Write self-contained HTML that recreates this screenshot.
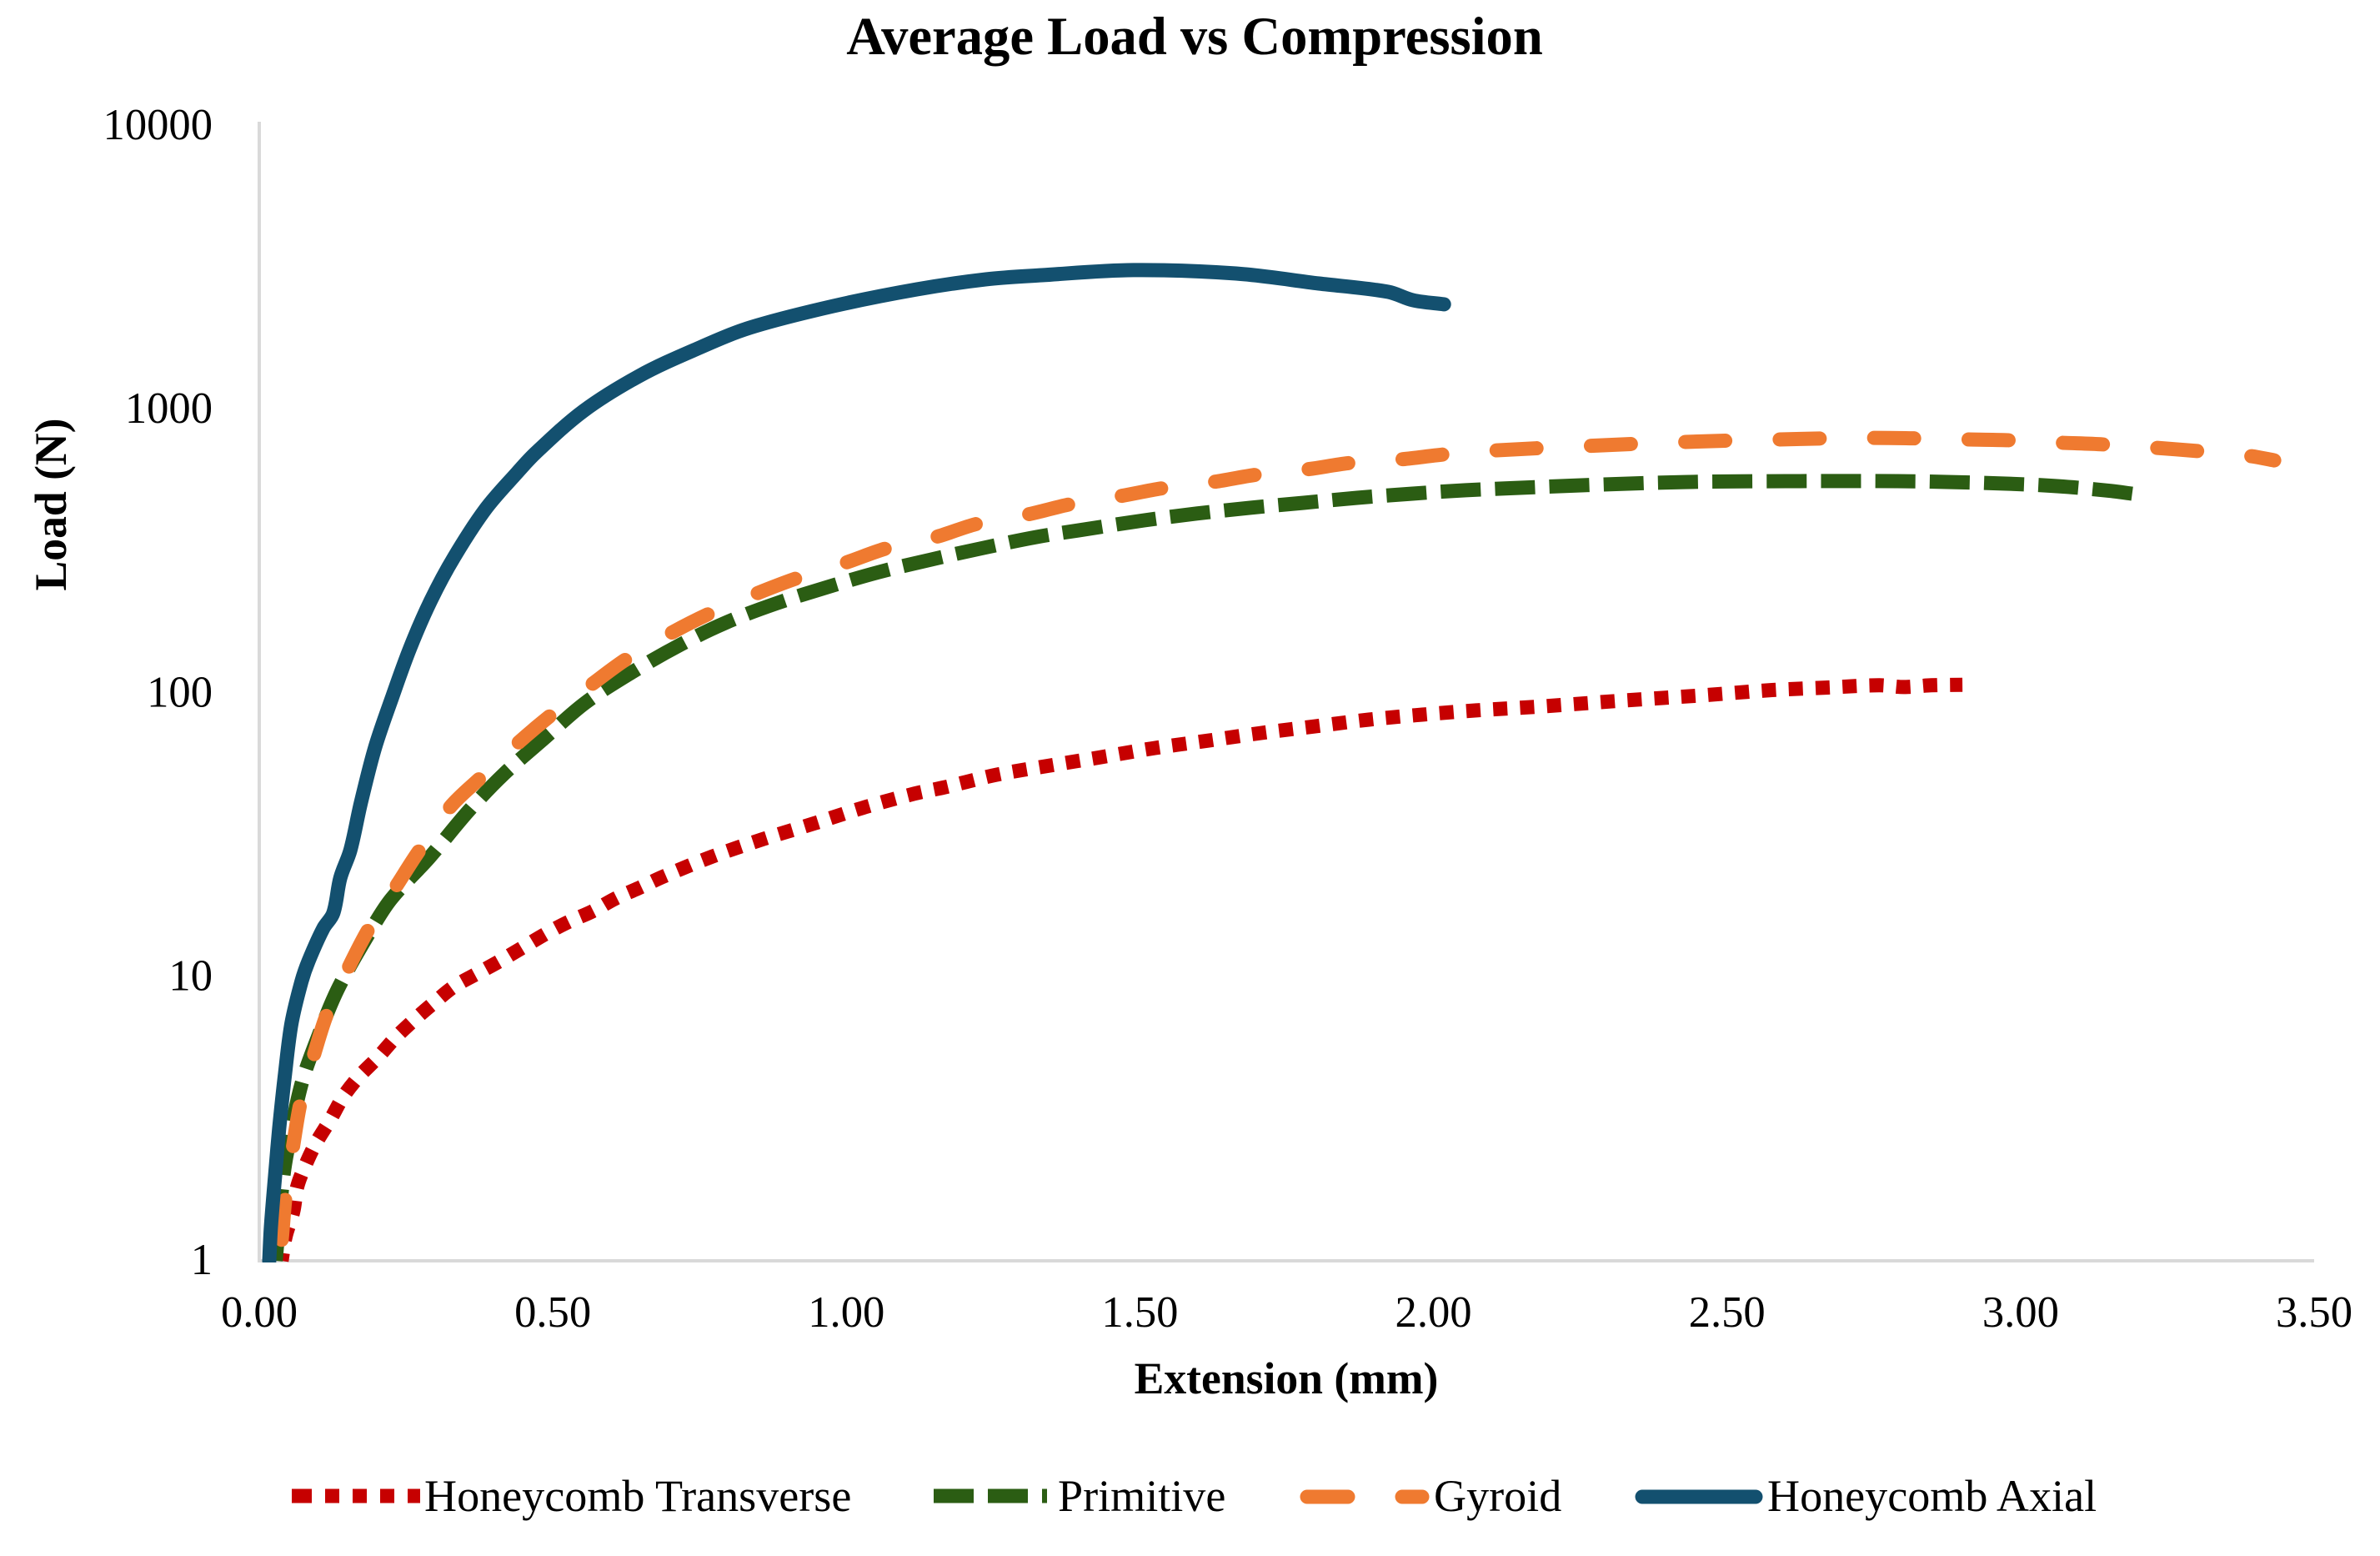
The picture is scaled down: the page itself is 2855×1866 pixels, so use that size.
<!DOCTYPE html>
<html lang="en">
<head>
<meta charset="utf-8">
<title>Average Load vs Compression</title>
<style>
html,body{margin:0;padding:0;background:#fff;width:2855px;height:1866px;overflow:hidden}
svg{display:block}
text{font-family:"Liberation Serif",serif;fill:#000}
.tick{font-size:52.6px}
.axis-title{font-size:53.6px;font-weight:bold}
.legend-label{font-size:54.1px}
</style>
</head>
<body>
<svg id="chart" xmlns="http://www.w3.org/2000/svg" width="2855" height="1866" viewBox="0 0 2855 1866">
  <defs>
    <clipPath id="plot-clip"><rect x="300" y="100" width="2540" height="1414"/></clipPath>
  </defs>
  <rect x="0" y="0" width="2855" height="1866" fill="#ffffff"/>
  <text x="1433" y="65" text-anchor="middle" font-size="64.6" font-weight="bold">Average Load vs Compression</text>
  <line x1="311" y1="146" x2="311" y2="1514" stroke="#d9d9d9" stroke-width="4"/>
  <line x1="309" y1="1512" x2="2776" y2="1512" stroke="#d9d9d9" stroke-width="4"/>
  <g id="ticks"></g>
  <g id="series" clip-path="url(#plot-clip)"></g>
  <text class="axis-title" x="1543" y="1671" text-anchor="middle">Extension (mm)</text>
  <text class="axis-title" transform="translate(79 605) rotate(-90)" text-anchor="middle">Load (N)</text>
  <g>
    <g>
      <line x1="350" y1="1794" x2="504" y2="1794" stroke="#c60000" stroke-width="17" stroke-dasharray="24 16 17 16 17 16 17 16 17 100"/>
      <text class="legend-label" x="509" y="1812">Honeycomb Transverse</text>
    </g>
    <g>
      <line x1="1120" y1="1794" x2="1256" y2="1794" stroke="#2b5d13" stroke-width="17" stroke-dasharray="48 17"/>
      <text class="legend-label" x="1269" y="1812">Primitive</text>
    </g>
    <g>
      <line x1="1568" y1="1795" x2="1706" y2="1795" stroke="#ef7a30" stroke-width="17" stroke-linecap="round" stroke-dasharray="49 65"/>
      <text class="legend-label" x="1720" y="1812">Gyroid</text>
    </g>
    <g>
      <line x1="1970" y1="1795" x2="2106" y2="1795" stroke="#13506f" stroke-width="17" stroke-linecap="round"/>
      <text class="legend-label" x="2120" y="1812">Honeycomb Axial</text>
    </g>
  </g>
</svg>
<script>
const xTicks = [0, 0.5, 1, 1.5, 2, 2.5, 3, 3.5];
const yTicks = [1, 10, 100, 1000, 10000];

const transverseX = [0.038,0.045,0.058,0.065,0.080,0.097,0.121,0.143,0.170,0.202,0.231,0.264,0.297,0.332,0.371,0.410,0.446,0.486,0.524,0.568,0.606,0.647,0.689,0.772,0.859,0.946,1.032,1.116,1.167,1.255,1.345,1.434,1.525,1.616,1.707,1.798,1.890,1.981,2.073,2.185,2.327,2.455,2.577,2.668,2.759,2.801,2.848,2.901];
const transverseY = [1,1.22,1.49,1.83,2.20,2.60,3.13,3.77,4.44,5.18,6.05,7.02,8.04,9.19,10.2,11.3,12.5,14.0,15.4,16.9,18.7,20.4,22.4,26.3,30.3,34.4,39.2,43.7,46.0,50.9,54.8,58.7,63.2,67.1,71.4,75.3,79.5,82.8,85.7,88.5,92.9,96.7,101,103,105,103.5,105,105.4];

const primitiveX = [0.028,0.040,0.048,0.072,0.102,0.136,0.197,0.226,0.290,0.356,0.417,0.486,0.555,0.633,0.718,0.794,0.879,0.967,1.055,1.144,1.234,1.323,1.394,1.506,1.597,1.688,1.779,1.870,1.962,2.055,2.256,2.427,2.605,2.790,2.882,2.975,3.065,3.155,3.190];
const primitiveY = [1,1.90,2.44,4.18,6.26,9.19,15.3,18.8,26.1,37.9,51.3,68.5,91.0,116,146,174,203,232,262,290,319,348,367,398,421,441,459,478,494,508,529,543,547,547,543,536,525,505,494];

const gyroidX = [0.033,0.038,0.045,0.058,0.071,0.094,0.116,0.152,0.187,0.236,0.268,0.325,0.378,0.442,0.498,0.567,0.626,0.701,0.768,0.846,0.917,0.997,1.071,1.152,1.224,1.309,1.380,1.465,1.542,1.624,1.700,1.783,1.859,1.944,2.019,2.104,2.256,2.427,2.588,2.749,2.909,2.982,3.070,3.142,3.230,3.303,3.391,3.432];
const gyroidY = [1,1.18,1.70,2.55,3.65,5.36,7.41,10.7,14.7,21.1,26.7,39.2,49.9,66.2,82.8,106,130,160,188,220,250,282,319,348,388,418,453,484,518,543,577,601,634,652,679,701,726,751,766,776,766,761,746,736,716,697,670,647];

const axialX = [0.017,0.020,0.027,0.034,0.044,0.055,0.072,0.084,0.109,0.126,0.138,0.155,0.173,0.197,0.226,0.257,0.292,0.332,0.386,0.439,0.471,0.552,0.647,0.741,0.836,0.978,1.120,1.238,1.333,1.489,1.664,1.805,1.923,1.965,2.018];
const axialY = [1,1.33,1.99,2.92,4.56,6.83,9.57,11.3,14.7,16.6,22.1,27.6,40.5,63.2,94.8,142,208,296,438,585,688,964,1280,1580,1892,2254,2578,2798,2892,3013,2931,2704,2528,2362,2285];

const SVG_NS = 'http://www.w3.org/2000/svg';
function xScale(v) { return 311 + v * (2776 - 311) / 3.5; }
function yScale(v) { return 1512 - Math.log10(v) * (1512 - 146) / 4; }
function smoothPath(xs, ys) {
  const p = xs.map(function (x, i) { return [xScale(x), yScale(ys[i])]; });
  const dist = function (a, b) { return Math.hypot(a[0] - b[0], a[1] - b[1]); };
  let d = 'M' + p[0][0].toFixed(1) + ' ' + p[0][1].toFixed(1);
  for (let i = 0; i < p.length - 1; i++) {
    const p0 = p[Math.max(i - 1, 0)], p1 = p[i], p2 = p[i + 1], p3 = p[Math.min(i + 2, p.length - 1)];
    const seg = dist(p1, p2);
    const s1 = seg / (3 * (dist(p0, p1) + seg || 1));
    const s2 = seg / (3 * (seg + dist(p2, p3) || 1));
    const c1x = p1[0] + (p2[0] - p0[0]) * s1, c1y = p1[1] + (p2[1] - p0[1]) * s1;
    const c2x = p2[0] - (p3[0] - p1[0]) * s2, c2y = p2[1] - (p3[1] - p1[1]) * s2;
    d += ' C' + c1x.toFixed(1) + ' ' + c1y.toFixed(1) + ' ' + c2x.toFixed(1) + ' ' + c2y.toFixed(1) + ' ' + p2[0].toFixed(1) + ' ' + p2[1].toFixed(1);
  }
  return d;
}

const tickGroup = document.getElementById('ticks');
xTicks.forEach(function (v) {
  const t = document.createElementNS(SVG_NS, 'text');
  t.setAttribute('class', 'tick');
  t.setAttribute('x', xScale(v));
  t.setAttribute('y', 1591);
  t.setAttribute('text-anchor', 'middle');
  
  
  t.textContent = v.toFixed(2);
  tickGroup.appendChild(t);
});
yTicks.forEach(function (v) {
  const t = document.createElementNS(SVG_NS, 'text');
  const ys = yScale(v);
  t.setAttribute('class', 'tick');
  t.setAttribute('x', 255);
  t.setAttribute('y', 1528 - (1512 - ys) * 0.9965);
  t.setAttribute('text-anchor', 'end');
  
  
  t.textContent = String(v);
  tickGroup.appendChild(t);
});

const seriesGroup = document.getElementById('series');
function drawSeries(name, xs, ys, color, dashOn, dashOff, cap, endPhase) {
  const p = document.createElementNS(SVG_NS, 'path');
  p.setAttribute('d', smoothPath(xs, ys));
  p.setAttribute('fill', 'none');
  p.setAttribute('stroke', color);
  p.setAttribute('stroke-width', 17);
  p.setAttribute('stroke-linejoin', 'round');
  p.setAttribute('stroke-linecap', cap);
  
  
  seriesGroup.appendChild(p);
  if (dashOn) {
    const period = dashOn + dashOff;
    const len = p.getTotalLength();
    const offset = ((endPhase - len) % period + period) % period;
    p.setAttribute('stroke-dasharray', dashOn + ' ' + dashOff);
    p.setAttribute('stroke-dashoffset', offset.toFixed(2));
  }
}
drawSeries('line-honeycomb-transverse', transverseX, transverseY, '#c60000', 17, 15.3, 'butt', 15);
drawSeries('line-primitive', primitiveX, primitiveY, '#2b5d13', 48, 17.2, 'butt', 47.9);
drawSeries('line-gyroid', gyroidX, gyroidY, '#ef7a30', 48, 65.3, 'round', 28);
drawSeries('line-honeycomb-axial', axialX, axialY, '#13506f', 0, 0, 'round', 0);
</script>
</body>
</html>
